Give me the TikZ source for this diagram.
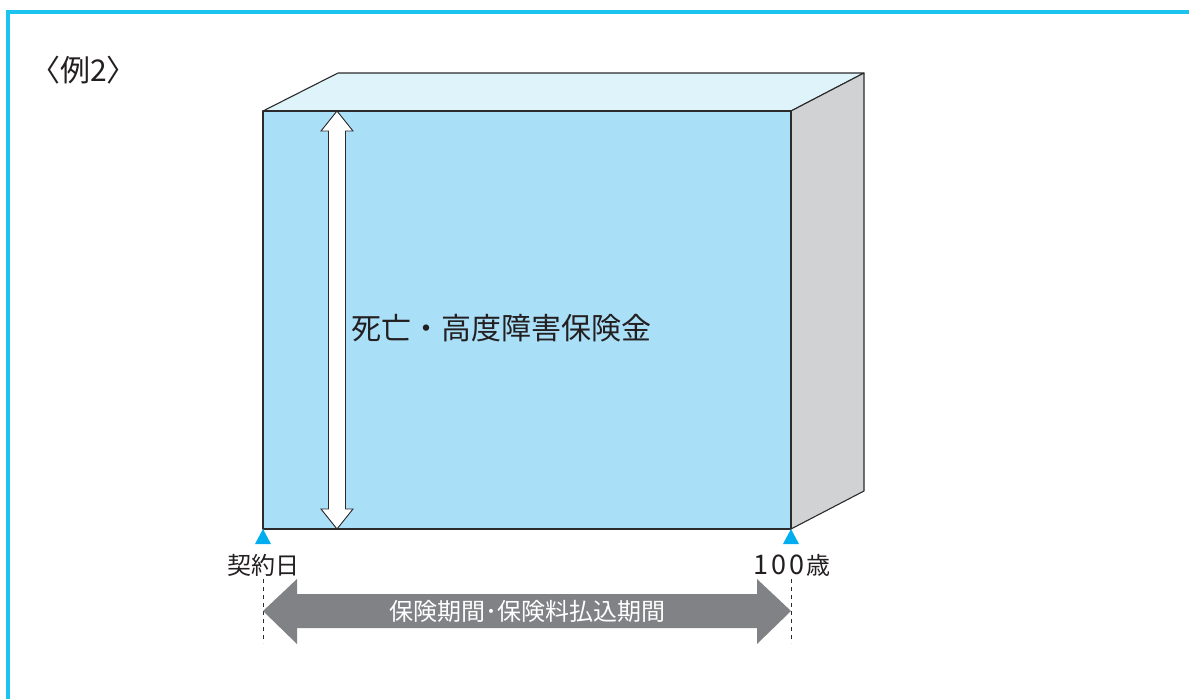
\documentclass[tikz,border=0pt]{standalone}
\usepackage{fontspec}
\setmainfont{Noto Sans CJK JP}
\newfontfamily\jp{Noto Sans CJK JP}
\definecolor{framecyan}{HTML}{1CC3EE}
\definecolor{frontblue}{HTML}{AADFF8}
\definecolor{topblue}{HTML}{DFF3FB}
\definecolor{sidegray}{HTML}{D1D2D4}
\definecolor{tricyan}{HTML}{00AEEF}
\definecolor{arrowgray}{HTML}{808285}
\definecolor{edgedark}{HTML}{2B2B2B}
\definecolor{txt}{HTML}{231F20}
\newcommand{\dg}[1]{\makebox[18pt]{#1}}
\tikzset{
  face/.style={draw=edgedark, line width=1.1pt, line join=round},
  lbl/.style={inner sep=0pt, text=txt},
  marker/.style={fill=tricyan, draw=none},
  guide/.style={draw=edgedark, line width=1pt, dash pattern=on 4pt off 4pt},
}
\begin{document}
\begin{tikzpicture}[x=1pt,y=-1pt]
\useasboundingbox (0,0) rectangle (1189,699);
% frame
\draw[framecyan, line width=4pt] (8,699) -- (8,12) -- (1189,12);
% box coordinates
\coordinate (fl) at (263,111);
\coordinate (fr) at (791,111);
\coordinate (br) at (791,529);
\coordinate (bl) at (263,529);
\coordinate (tl) at (338,73);
\coordinate (tr) at (864,73);
\coordinate (sr) at (864,491);
% faces
\filldraw[face, fill=topblue] (fl) -- (tl) -- (tr) -- (fr) -- cycle;
\filldraw[face, fill=sidegray] (fr) -- (tr) -- (sr) -- (br) -- cycle;
\filldraw[face, fill=frontblue] (fl) -- (fr) -- (br) -- (bl) -- cycle;
% hollow double arrow
\filldraw[draw=edgedark, fill=white, line width=0.9pt, line join=miter]
  (337,111) -- (353,131) -- (345.5,131) -- (345.5,509) -- (353,509) -- (337,529)
  -- (321,509) -- (328.5,509) -- (328.5,131) -- (321,131) -- cycle;
% main label
\node[lbl, anchor=west, font=\jp\fontsize{30}{30}\selectfont] (death) at (351,328) {死亡・高度障害保険金};
% markers
\fill[marker] (263,529) -- (271,544) -- (255,544) -- cycle;
\fill[marker] (791,529) -- (799,544) -- (783,544) -- cycle;
% labels
\node[lbl, font=\jp\fontsize{24}{24}\selectfont] (start) at (263,565) {契約日};
\node[lbl, font=\jp\fontsize{24}{24}\selectfont] (end) at (791,565) {\fontsize{27}{27}\selectfont\dg{1}\dg{0}\dg{0}\fontsize{24}{24}\selectfont 歳};
% guides
\coordinate (g1a) at (263,579);
\coordinate (g1b) at (263,643);
\coordinate (g2a) at (791,579);
\coordinate (g2b) at (791,643);
\draw[guide] (g1a) -- (g1b);
\draw[guide] (g2a) -- (g2b);
% gray period arrow
\fill[arrowgray] (263,611) -- (297,579) -- (297,594) -- (757,594) -- (757,579) -- (791,611)
  -- (757,644) -- (757,628) -- (297,628) -- (297,644) -- cycle;
\node[lbl, text=white, font=\jp\fontsize{24}{24}\selectfont] (period) at (527,611) {保険期間･保険料払込期間};
% title
\node[lbl, anchor=west, font=\jp\fontsize{30}{30}\selectfont] (title) at (30,70) {〈例2〉};
\end{tikzpicture}
\end{document}
